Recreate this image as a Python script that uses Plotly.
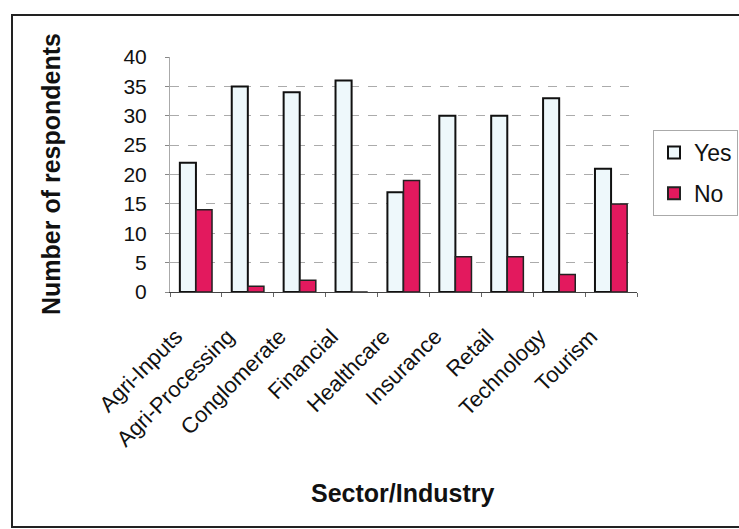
import plotly.graph_objects as go

# Survey responses by sector
sectors = ["Agri-Inputs", "Agri-Processing", "Conglomerate", "Financial", "Healthcare",
           "Insurance", "Retail", "Technology", "Tourism"]
yes_counts = [22, 35, 34, 36, 17, 30, 30, 33, 21]
no_counts = [14, 1, 2, 0, 19, 6, 6, 3, 15]
y_ticks = [0, 5, 10, 15, 20, 25, 30, 35, 40]

W, H = 739, 529
L, R, T, B = 170, 102, 57, 237
pw, ph = W - L - R, H - T - B


def px_x(v):
    return (v - L) / pw


def px_y(v):
    return (H - B - v) / ph


FONT = "Liberation Sans, Arial, sans-serif"

fig = go.Figure()
fig.add_trace(go.Bar(
    name="Yes", x=sectors, y=yes_counts, legendgroup="yes",
    marker=dict(color="#EEF8FB", line=dict(color="#111111", width=2)),
))
fig.add_trace(go.Bar(
    name="No", x=sectors, y=no_counts, legendgroup="no",
    marker=dict(color="#E3195E", line=dict(color="#222222", width=1.5)),
))

fig.update_layout(
    width=W, height=H,
    margin=dict(l=L, r=R, t=T, b=B, autoexpand=False),
    paper_bgcolor="white", plot_bgcolor="white",
    barmode="group", bargap=0.38, bargroupgap=0,
    font=dict(family=FONT, size=20, color="#111111"),
    showlegend=True,
    legend=dict(
        x=px_x(653), y=px_y(130), xanchor="left", yanchor="top",
        bgcolor="white", bordercolor="#aaaaaa", borderwidth=1,
        font=dict(size=23, family=FONT, color="#111111"),
        itemsizing="constant", tracegroupgap=8, itemwidth=30,
    ),
    xaxis=dict(
        type="category", tickangle=-45, tickson="boundaries",
        ticks="outside", ticklen=4, tickcolor="#666666",
        showline=True, linecolor="#444444", linewidth=1,
        tickfont=dict(size=22, family=FONT, color="#111111"),
        ticklabelstandoff=22, ticklabelshift=-20,
        showgrid=False,
    ),
    yaxis=dict(
        range=[0, 40], tickvals=y_ticks, ticktext=[str(v) for v in y_ticks],
        ticks="outside", ticklen=4, tickcolor="#888888",
        showline=True, linecolor="#aaaaaa", linewidth=1,
        showgrid=True, gridcolor="#ababab", griddash="dash", gridwidth=1,
        tickfont=dict(size=21, family=FONT, color="#111111"),
        ticklabelstandoff=14, zeroline=False,
    ),
    annotations=[
        dict(text="<b>Number of respondents</b>", xref="paper", yref="paper",
             x=px_x(51), y=px_y(174), textangle=-90, showarrow=False,
             xanchor="center", yanchor="middle",
             font=dict(size=25, family=FONT, color="#111111")),
        dict(text="<b>Sector/Industry</b>", xref="paper", yref="paper",
             x=px_x(402), y=px_y(493), showarrow=False,
             xanchor="center", yanchor="middle",
             font=dict(size=25, family=FONT, color="#111111")),
    ],
    shapes=[
        dict(type="rect", xref="paper", yref="paper",
             x0=px_x(12), x1=px_x(760), y0=px_y(15), y1=px_y(527),
             line=dict(color="#222222", width=2), fillcolor="rgba(0,0,0,0)",
             layer="below"),
    ],
)

fig.write_html("out.html")
